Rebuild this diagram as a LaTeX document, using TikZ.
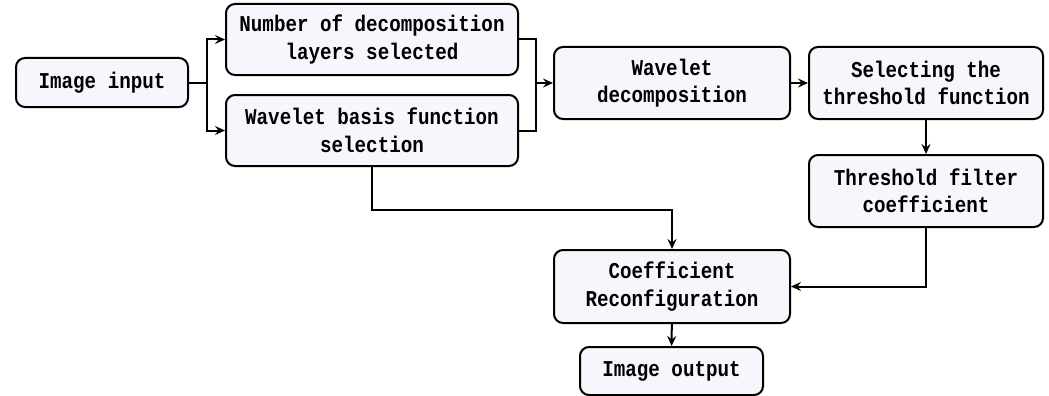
\documentclass[tikz,border=0pt]{standalone}
\usepackage{fontspec}
\newfontfamily\boxfont[FakeStretch=0.85]{Liberation Mono}
\usetikzlibrary{arrows.meta}
\definecolor{boxfill}{RGB}{245,247,252}
\begin{document}
\begin{tikzpicture}[x=1pt,y=-1pt,
  box/.style={draw=black, line width=2pt, fill=boxfill, rounded corners=9pt,
    align=center, inner sep=0pt,
    font=\boxfont\bfseries\fontsize{22.6}{27.5}\selectfont},
  conn/.style={line width=2pt},
  arr/.style={conn, -{Stealth[length=10pt,width=9pt,inset=3.5pt]}}]
\useasboundingbox (0,0) rectangle (1049,396);
\node[box, minimum width=172pt, minimum height=49pt] (in) at (102,82.5) {Image input};
\node[box, minimum width=292pt, minimum height=71pt] (num) at (372,39.5) {Number of decomposition\\layers selected};
\node[box, minimum width=292pt, minimum height=71pt] (basis) at (372,130.5) {Wavelet basis function\\selection};
\node[box, minimum width=236pt, minimum height=72pt] (dec) at (672,83) {Wavelet\\decomposition};
\node[box, minimum width=234pt, minimum height=72pt] (sel) at (926,83) {Selecting the\\threshold function};
\node[box, minimum width=234pt, minimum height=72pt] (thr) at (926,191) {Threshold filter\\coefficient};
\node[box, minimum width=236pt, minimum height=73pt] (coef) at (672,286.5) {Coefficient\\Reconfiguration};
\node[box, minimum width=183pt, minimum height=48pt] (out) at (671.5,371) {Image output};
\coordinate (j1) at (207,82.5);
\coordinate (j2) at (536,83);
\draw[conn] (in) -- (j1);
\draw[arr] (j1) |- (num);
\draw[arr] (j1) |- (basis);
\draw[conn] (num) -| (j2);
\draw[conn] (basis) -| (j2);
\draw[arr] (j2) -- (dec);
\draw[arr] (dec) -- (sel);
\draw[arr] (sel) -- (thr);
\draw[arr] (basis.south) -- ++(0,43) -| (coef.north);
\draw[arr] (thr.south) |- (coef.east);
\draw[arr] (coef) -- (out);
\end{tikzpicture}
\end{document}
